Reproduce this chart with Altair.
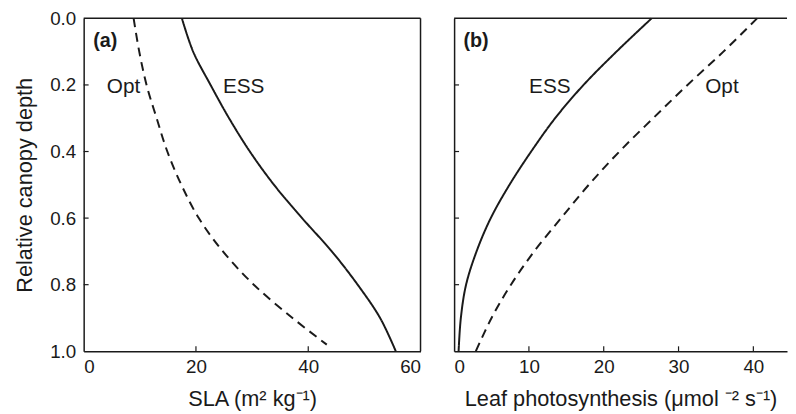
import altair as alt
import pandas as pd

# ---------------- data ----------------
depth = [0.0, 0.1, 0.2, 0.3, 0.4, 0.5, 0.6, 0.7, 0.8, 0.9, 1.0]

# panel (a): specific leaf area (m2 kg-1)
sla_ess = [17.5, 19.5, 22.6, 25.9, 29.6, 33.9, 38.9, 44.2, 48.8, 52.8, 55.6]
sla_opt_depth = [0.0, 0.1, 0.2, 0.3, 0.4, 0.5, 0.6, 0.7, 0.8, 0.9, 0.98]
sla_opt = [8.9, 9.9, 11.2, 13.0, 14.9, 17.4, 20.5, 24.8, 30.3, 37.2, 43.3]

# panel (b): leaf photosynthesis (umol m-2 s-1)
ps_ess = [26.4, 21.7, 17.3, 13.5, 10.3, 7.4, 4.9, 3.0, 1.6, 0.9, 0.6]
ps_opt = [40.5, 36.0, 31.2, 26.6, 22.1, 18.0, 14.3, 10.7, 7.6, 5.0, 2.9]

depth_labels = [0.0, 0.2, 0.4, 0.6, 0.8, 1.0]
depth_inner_ticks = [0.2, 0.4, 0.6, 0.8]
sla_labels = [0, 20, 40, 60]
sla_inner_ticks = [20, 40]
ps_labels = [0, 10, 20, 30, 40]
ps_inner_ticks = [10, 20, 30, 40]

# curve labels
a_text = pd.DataFrame({"x": [7.1, 28.5], "depth": [0.205, 0.205], "t": ["Opt", "ESS"]})
b_text = pd.DataFrame({"x": [12.8, 35.8], "depth": [0.205, 0.205], "t": ["ESS", "Opt"]})
a_tag = pd.DataFrame({"x": [1.7], "depth": [0.068], "t": ["(a)"]})
b_tag = pd.DataFrame({"x": [1.24], "depth": [0.068], "t": ["(b)"]})

# ---------------- tables ----------------
left_df = pd.concat([
    pd.DataFrame({"x": sla_ess, "depth": depth, "series": "ESS"}),
    pd.DataFrame({"x": sla_opt, "depth": sla_opt_depth, "series": "Opt"}),
])
right_df = pd.concat([
    pd.DataFrame({"x": ps_ess, "depth": depth, "series": "ESS"}),
    pd.DataFrame({"x": ps_opt, "depth": depth, "series": "Opt"}),
])

INK = "#1a1a1a"
FONT = "Liberation Sans"
WL, WR, H = 341, 337, 337
one = pd.DataFrame({"a": [0]})

yscale = alt.Scale(domain=[0, 1], reverse=True, nice=False, zero=False)
dash = alt.StrokeDash("series:N", scale=alt.Scale(domain=["ESS", "Opt"], range=[[1, 0], [9, 6]]), legend=None)


def panel(df, xdomain, xlabels, xinner, xtitle, width, texts, tag, show_ylabels, right_border):
    xscale = alt.Scale(domain=xdomain, nice=False, zero=False)
    xaxis = alt.Axis(values=xlabels, title=xtitle, format="d", ticks=False, tickSize=0,
                     labelPadding=7, titlePadding=12, grid=False, domain=True,
                     domainColor=INK, domainWidth=1.5)
    if show_ylabels:
        yaxis = alt.Axis(values=depth_labels, format=".1f", title="Relative canopy depth",
                         ticks=False, tickSize=0, labelPadding=8, titlePadding=13,
                         grid=False, domain=True, domainColor=INK, domainWidth=1.5)
    else:
        yaxis = alt.Axis(values=depth_labels, labels=False, title=None, ticks=False, tickSize=0,
                         grid=False, domain=True, domainColor=INK, domainWidth=1.5)

    X = lambda: alt.X("x:Q", scale=xscale, axis=xaxis)
    Y = lambda: alt.Y("depth:Q", scale=yscale, axis=yaxis)

    lines = alt.Chart(df).mark_line(color=INK, strokeWidth=2, interpolate="catmull-rom").encode(
        x=X(), y=Y(), detail="series:N", strokeDash=dash, order="depth:Q",
    )
    yt = alt.Chart(pd.DataFrame({"depth": depth_inner_ticks})).mark_rule(color=INK, strokeWidth=1.2).encode(
        y=Y(), x=alt.value(0), x2=alt.value(5))
    xt = alt.Chart(pd.DataFrame({"x": xinner})).mark_rule(color=INK, strokeWidth=1.2).encode(
        x=X(), y=alt.value(H), y2=alt.value(H - 5))
    top = alt.Chart(one).mark_rule(color=INK, strokeWidth=1.5).encode(
        x=alt.value(0), x2=alt.value(width), y=alt.value(0))
    layers = [lines, yt, xt, top]
    if right_border:
        layers.append(alt.Chart(one).mark_rule(color=INK, strokeWidth=1.5).encode(
            x=alt.value(width), y=alt.value(0), y2=alt.value(H)))
    lab = alt.Chart(texts).mark_text(font=FONT, fontSize=21, color=INK, align="center", baseline="middle").encode(
        x=X(), y=Y(), text="t:N")
    tg = alt.Chart(tag).mark_text(font=FONT, fontSize=20, fontWeight="bold", color=INK, align="left",
                                  baseline="middle").encode(
        x=X(), y=Y(), text="t:N")
    layers += [lab, tg]
    return alt.layer(*layers).properties(width=width, height=H)


left = panel(left_df, [0, 60], sla_labels, sla_inner_ticks, "SLA (m² kg⁻¹)", WL, a_text, a_tag, True, True)
right = panel(right_df, [0, 44.5], ps_labels, ps_inner_ticks, "Leaf photosynthesis (μmol ⁻² s⁻¹)", WR,
              b_text, b_tag, False, False)

chart = alt.hconcat(left, right, spacing=34, bounds="flush").properties(
    padding={"left": 5.6, "top": -1, "right": 0, "bottom": 0}
).configure_view(stroke=None).configure_axis(
    labelFont=FONT, titleFont=FONT, labelFontSize=19, titleFontSize=22,
    labelColor=INK, titleColor=INK, titleFontWeight="normal",
)

chart.save("out.html", embed_options={"renderer": "svg", "actions": False})
